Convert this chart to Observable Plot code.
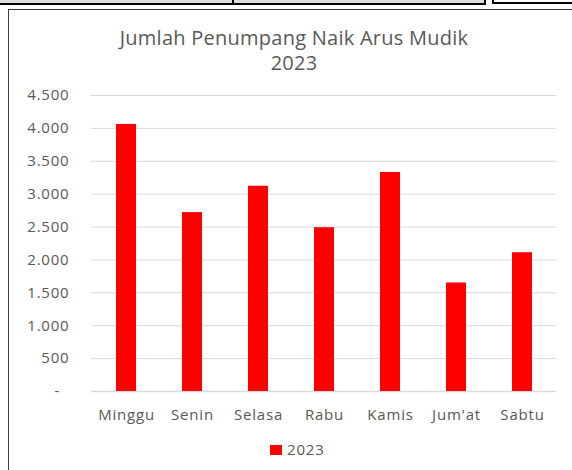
<!DOCTYPE html>
<html><head><meta charset="utf-8">
<script src="https://cdn.jsdelivr.net/npm/d3@7"></script>
<script src="https://cdn.jsdelivr.net/npm/@observablehq/plot@0.6"></script>
<style>
html,body{margin:0;padding:0;background:#fff}
body{width:572px;height:470px;overflow:hidden;position:relative;font-family:"Open Sans",sans-serif;color:#595959}
.abs{position:absolute}
.title{left:94px;width:400px;text-align:center;font-size:20px;letter-spacing:0.25px;line-height:22px;height:22px;color:#595959;white-space:nowrap}
#plot{left:0;top:0}
#legend{left:270px;top:439px;font-size:15px;letter-spacing:0.8px;line-height:20px;color:#595959;white-space:nowrap}
#legend .sw{display:inline-block;width:12px;height:10px;background:#ff0000;margin-right:5px;vertical-align:0px}
</style></head>
<body>
<!-- top strip (spreadsheet cells) -->
<div class="abs" style="left:0;top:0;width:485px;height:3px;background:#dcdcdc"></div>
<div class="abs" style="left:0;top:3px;width:486px;height:2px;background:#000"></div>
<div class="abs" style="left:232px;top:0;width:2px;height:4px;background:#000"></div>
<div class="abs" style="left:484px;top:0;width:2px;height:5px;background:#000"></div>
<div class="abs" style="left:492px;top:0;width:90px;height:2px;border-left:2px solid #000;border-bottom:2px solid #000;background:#fff"></div>
<!-- chart frame -->
<div class="abs" style="left:8px;top:9px;width:600px;height:500px;border:1px solid #3a3a3a;box-sizing:border-box"></div>
<div class="abs title" style="top:27px">Jumlah Penumpang Naik Arus Mudik</div>
<div class="abs title" style="top:52px">2023</div>
<div id="plot" class="abs"></div>
<div id="legend" class="abs"><span class="sw"></span><span id="legtext"></span></div>
<script>
const days = ["Minggu", "Senin", "Selasa", "Rabu", "Kamis", "Jum'at", "Sabtu"];
const values = [4060, 2720, 3120, 2490, 3330, 1650, 2110];
const yTicks = [0, 500, 1000, 1500, 2000, 2500, 3000, 3500, 4000, 4500];
const seriesName = "2023";

const data = days.map((d, i) => ({day: d, value: values[i]}));
const fmt = v => v === 0 ? "-\u2007" : d3.format(",")(v).replace(/,/g, ".");

const chart = Plot.plot({
  width: 572,
  height: 430,
  marginLeft: 91,
  marginRight: 16,
  marginTop: 95,
  marginBottom: 39,
  style: {fontFamily: "Open Sans, sans-serif", fontSize: "15px", color: "#595959", background: "transparent", letterSpacing: "0.8px", overflow: "visible"},
  x: {domain: days, paddingInner: 0.7, paddingOuter: 0.35, label: null},
  y: {domain: [0, 4500], label: null},
  marks: [
    Plot.gridY(yTicks, {stroke: "#d9d9d9", strokeOpacity: 1, strokeWidth: 1}),
    Plot.ruleY([0], {stroke: "#d9d9d9", strokeWidth: 1.5}),
    Plot.barY(data, {x: "day", y: "value", fill: "#ff0000"}),
    Plot.axisY(yTicks, {tickSize: 0, tickPadding: 22, tickFormat: fmt, label: null, fill: "#595959"}),
    Plot.axisX({tickSize: 0, tickPadding: 18, label: null, fill: "#595959"})
  ]
});
document.getElementById("plot").appendChild(chart);
document.getElementById("legtext").textContent = seriesName;
</script>
</body></html>
